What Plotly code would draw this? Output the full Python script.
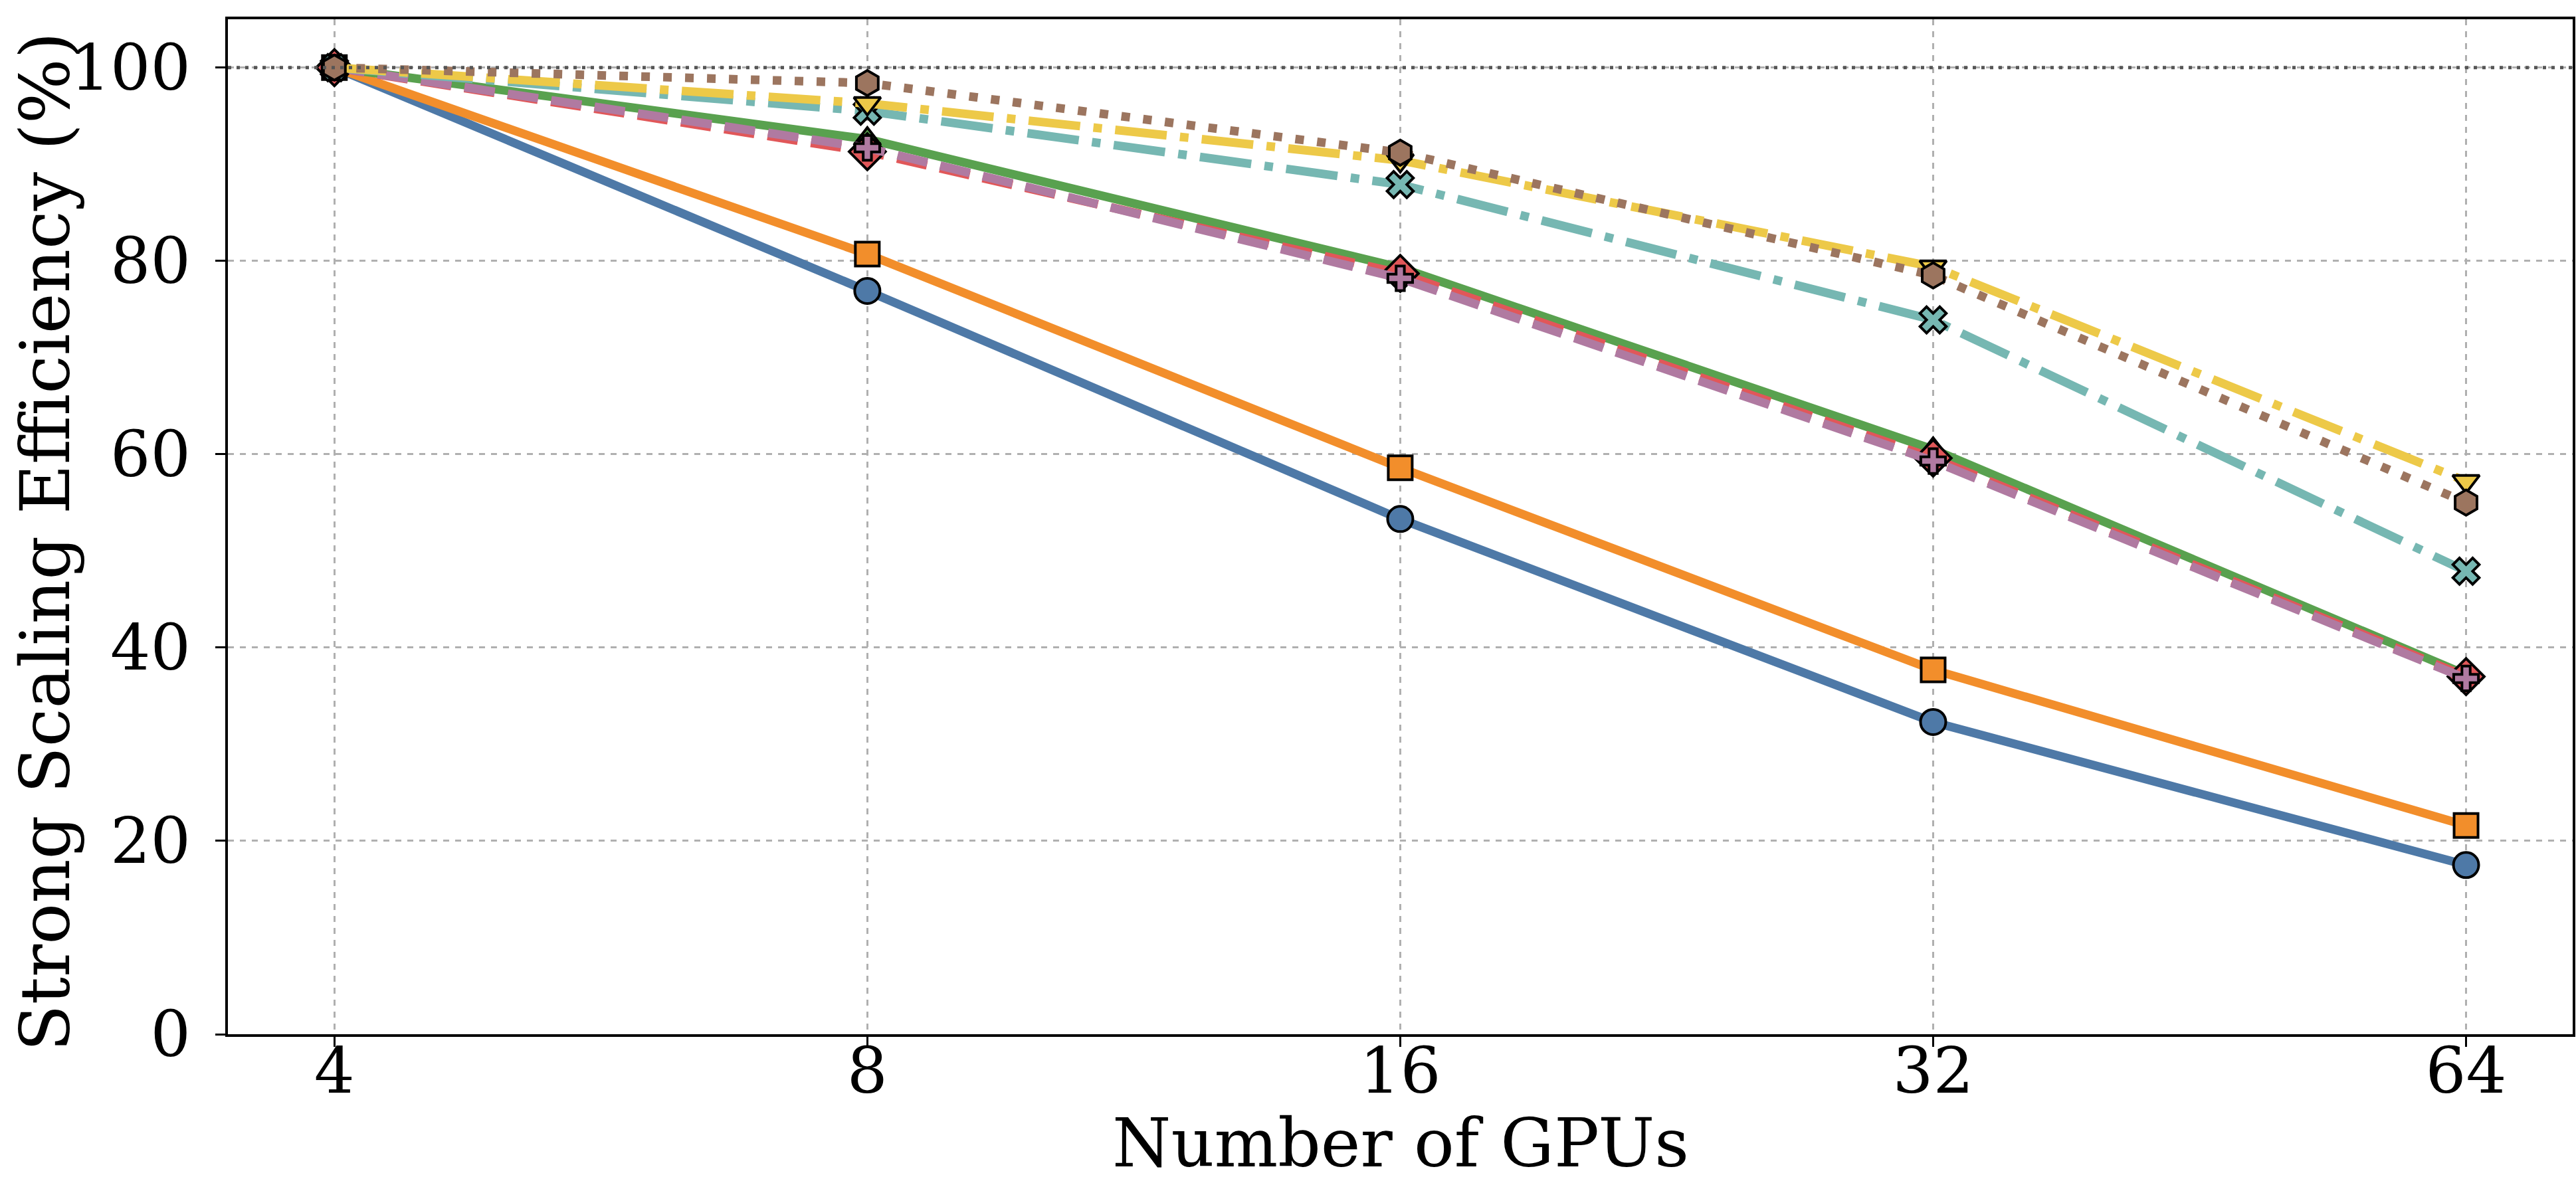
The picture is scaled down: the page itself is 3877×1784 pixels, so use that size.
import plotly.graph_objects as go

gpus = [4, 8, 16, 32, 64]
tick_labels = ["4", "8", "16", "32", "64"]
y_ticks = [0, 20, 40, 60, 80, 100]

eff_blue = [100, 76.9, 53.3, 32.3, 17.5]
eff_orange = [100, 80.7, 58.6, 37.7, 21.6]
eff_green = [100, 92.6, 79.3, 60.5, 37.2]
eff_red = [100, 91.3, 78.7, 59.6, 37.0]
eff_purple = [100, 91.7, 78.2, 59.3, 36.8]
eff_teal = [100, 95.5, 87.9, 73.9, 47.9]
eff_yellow = [100, 96.3, 90.4, 79.4, 57.2]
eff_brown = [100, 98.4, 91.2, 78.5, 55.0]
ideal = 100

x_title = "Number of GPUs"
y_title = "Strong Scaling Efficiency (%)"

series = [
    ("Series 1", eff_blue, "#4e79a7", "solid", "circle", 38),
    ("Series 2", eff_orange, "#f28e2b", "solid", "square", 36),
    ("Series 3", eff_green, "#59a14f", "solid", "triangle-up", 35),
    ("Series 4", eff_red, "#e15759", "46px,20px", "diamond", 42),
    ("Series 5", eff_purple, "#b07aa1", "46px,20px", "cross", 31),
    ("Series 6", eff_teal, "#76b7b2", "78px,20px,13px,20px", "x", 35),
    ("Series 7", eff_yellow, "#edc948", "78px,20px,13px,20px", "triangle-down", 35),
    ("Series 8", eff_brown, "#9c755f", "13px,20px", "hexagon", 38),
]

fig = go.Figure()
for name, vals, color, dash, sym, size in series:
    fig.add_trace(go.Scatter(
        x=gpus, y=vals, name=name, mode="lines+markers",
        line=dict(color=color, width=13, dash=dash),
        marker=dict(symbol=sym, size=size, color=color,
                    line=dict(color="black", width=4)),
        showlegend=False,
    ))

fig.add_shape(type="line", xref="paper", x0=0, x1=1, yref="y", y0=ideal, y1=ideal,
              line=dict(color="#555555", width=5, dash="5px,8px"), layer="above")

font_family = "DejaVu Serif"
L, R, T, B = 343, 5, 29, 227
W, H = 3877, 1784
pw, ph = W - L - R, H - T - B

fig.update_layout(
    width=W, height=H,
    margin=dict(l=L, r=R, t=T, b=B),
    plot_bgcolor="white", paper_bgcolor="white",
    font=dict(family=font_family, color="black", size=96),
    showlegend=False,
)
fig.update_xaxes(
    type="log", range=[0.5419, 1.8664],
    tickvals=gpus, ticktext=tick_labels,
    showgrid=True, gridcolor="#b0b0b0", gridwidth=3, griddash="dash",
    showline=True, linecolor="black", linewidth=4, mirror=True,
    ticks="outside", ticklen=15, tickwidth=3, tickcolor="black",
    ticklabelstandoff=-46,
    tickfont=dict(family=font_family, size=96, color="black"),
    automargin=False, zeroline=False,
)
fig.update_yaxes(
    range=[0, 105],
    tickvals=y_ticks,
    showgrid=True, gridcolor="#b0b0b0", gridwidth=3, griddash="dash",
    showline=True, linecolor="black", linewidth=4, mirror=True,
    ticks="outside", ticklen=15, tickwidth=3, tickcolor="black",
    ticklabelstandoff=18,
    tickfont=dict(family=font_family, size=95, color="black"),
    automargin=False, zeroline=False,
)

fig.add_annotation(text=x_title, xref="paper", yref="paper",
                   x=0.5, y=-(1721 - (H - B)) / ph, xanchor="center", yanchor="middle",
                   showarrow=False, borderpad=0,
                   font=dict(family=font_family, size=101, color="black"))
fig.add_annotation(text=y_title, xref="paper", yref="paper", textangle=-90,
                   x=(68 - L) / pw, y=0.485, xanchor="center", yanchor="middle",
                   showarrow=False, borderpad=0,
                   font=dict(family=font_family, size=103, color="black"))

fig.write_html("out.html")
